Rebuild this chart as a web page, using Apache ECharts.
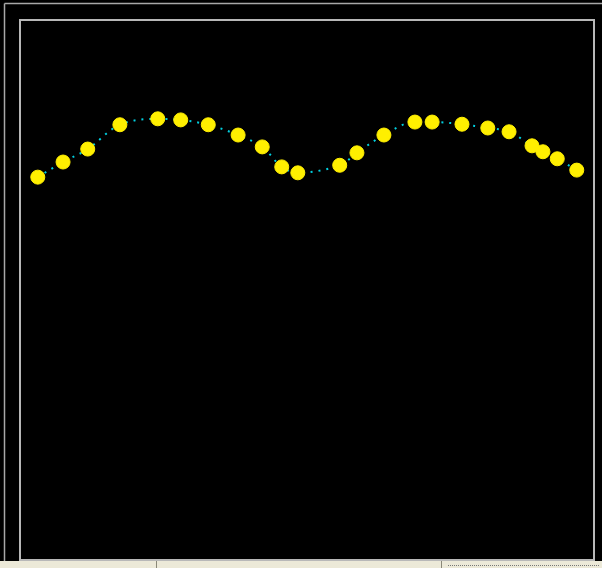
<!DOCTYPE html>
<html>
<head>
<meta charset="utf-8">
<style>
html,body{margin:0;padding:0;background:#000;}
#chart{width:602px;height:568px;}
</style>
<script src="https://cdn.jsdelivr.net/npm/echarts@6/dist/echarts.min.js"></script>
</head>
<body>
<div id="chart"></div>
<script>
// x positions (0-100 scale across the plot frame)
var xValues = [3.1, 7.5, 11.8, 17.4, 24.0, 28.0, 32.8, 38.0, 42.2, 45.6, 48.4, 55.7, 58.7, 63.4, 68.8, 71.8, 77.0, 81.5, 85.2, 89.2, 91.1, 93.6, 97.0];
// y values (0-100 scale from the bottom of the plot frame)
var yValues = [70.9, 73.7, 76.1, 80.6, 81.7, 81.5, 80.6, 78.7, 76.5, 72.8, 71.7, 73.1, 75.4, 78.7, 81.1, 81.1, 80.7, 80.0, 79.3, 76.7, 75.6, 74.3, 72.2];

var points = xValues.map(function (x, i) { return [x, yValues[i]]; });

var chart = echarts.init(document.getElementById('chart'), null, {renderer: 'canvas'});
chart.setOption({
  backgroundColor: '#000000',
  animation: false,
  grid: {
    left: 20, top: 20, width: 574, height: 540,
    show: true, borderColor: '#b8b8b8', borderWidth: 2, backgroundColor: 'transparent'
  },
  xAxis: {
    type: 'value', min: 0, max: 100,
    axisLine: {show: false}, axisTick: {show: false}, axisLabel: {show: false}, splitLine: {show: false}
  },
  yAxis: {
    type: 'value', min: 0, max: 100,
    axisLine: {show: false}, axisTick: {show: false}, axisLabel: {show: false}, splitLine: {show: false}
  },
  graphic: [
    {type: 'line', shape: {x1: 4.5, y1: 3.5, x2: 602, y2: 3.5}, style: {stroke: '#a8a8a8', lineWidth: 1.5}, z: 10},
    {type: 'line', shape: {x1: 4.5, y1: 3.5, x2: 4.5, y2: 561}, style: {stroke: '#a8a8a8', lineWidth: 1.5}, z: 10},
    {type: 'rect', shape: {x: 0, y: 561, width: 602, height: 7}, style: {fill: '#ece9d8'}, z: 10},
    {type: 'line', shape: {x1: 156.5, y1: 561, x2: 156.5, y2: 568}, style: {stroke: '#8a8878', lineWidth: 1}, z: 11},
    {type: 'line', shape: {x1: 441.5, y1: 561, x2: 441.5, y2: 568}, style: {stroke: '#8a8878', lineWidth: 1}, z: 11},
    {type: 'line', shape: {x1: 448, y1: 565.5, x2: 600, y2: 565.5}, style: {stroke: '#777', lineWidth: 1, lineDash: [1, 1]}, z: 11}
  ],
  series: [{
    type: 'line',
    data: points,
    smooth: 0.35,
    symbol: 'circle',
    symbolSize: 14,
    itemStyle: {color: '#ffef00', borderColor: '#ffef00', borderWidth: 1},
    lineStyle: {color: '#00d0e0', width: 2, type: [2, 6]},
    z: 5
  }]
});
</script>
</body>
</html>
